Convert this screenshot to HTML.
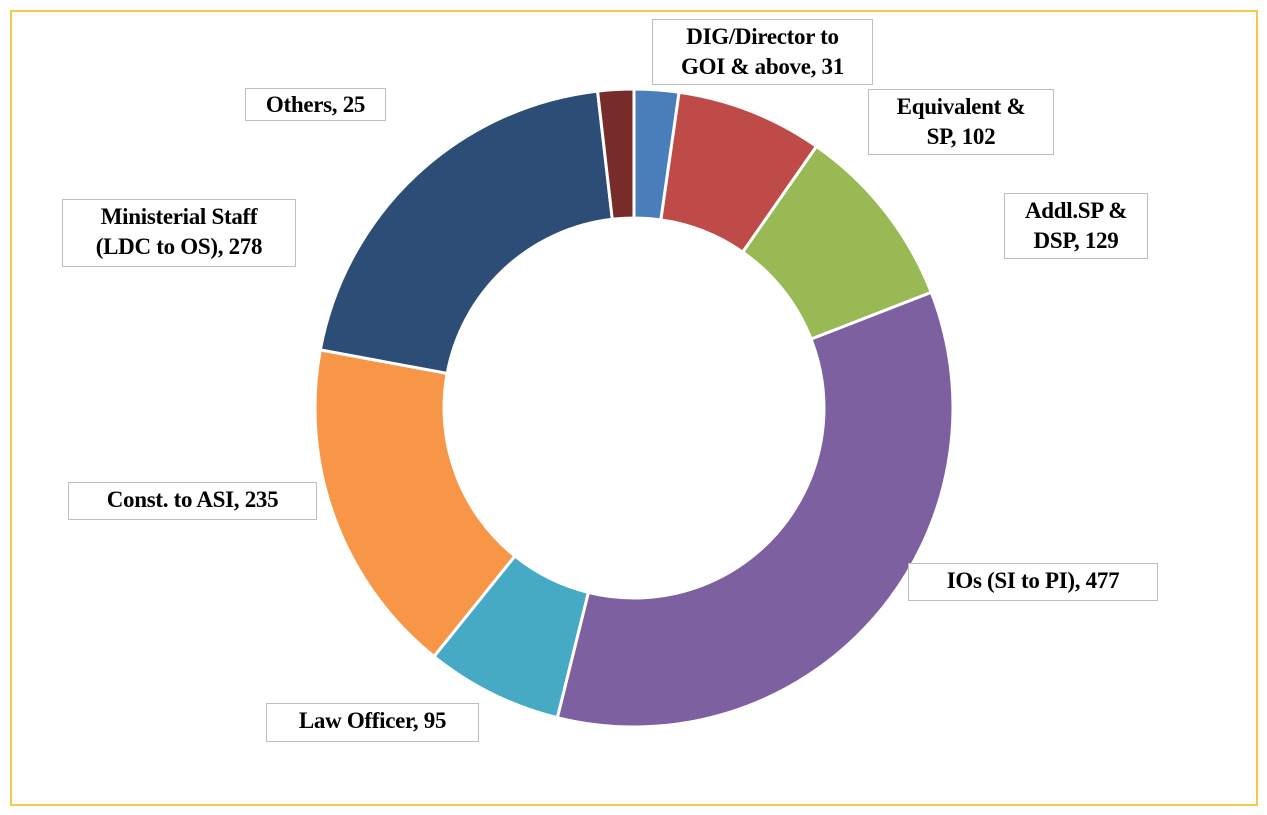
<!DOCTYPE html>
<html><head><meta charset="utf-8">
<style>
body{margin:0;background:#fff;width:1267px;height:815px;position:relative;overflow:hidden;font-family:"Liberation Serif",serif}
#frame{position:absolute;left:10px;top:10px;width:1248px;height:796px;border:2px solid #f2c94c;box-sizing:border-box}
.lbl{position:absolute;border:1.5px solid #bfbfbf;background:#fff;font-size:23px;line-height:30px;text-align:center;color:#000;box-sizing:border-box;padding-top:2px;font-weight:bold;letter-spacing:-0.3px}
</style></head><body>
<div id="frame"></div>
<svg id="chart" width="1267" height="815" style="position:absolute;left:0;top:0"></svg>
<div class="lbl" style="left:652px;top:19px;width:221px;height:66px">DIG/Director to<br>GOI &amp; above, 31</div>
<div class="lbl" style="left:868px;top:89px;width:186px;height:66px">Equivalent &amp;<br>SP, 102</div>
<div class="lbl" style="left:1004px;top:193px;width:144px;height:66px">Addl.SP &amp;<br>DSP, 129</div>
<div class="lbl" style="left:908px;top:563px;width:250px;height:38px">IOs (SI to PI), 477</div>
<div class="lbl" style="left:266px;top:703px;width:213px;height:39px">Law Officer, 95</div>
<div class="lbl" style="left:68px;top:482px;width:249px;height:38px">Const. to ASI, 235</div>
<div class="lbl" style="left:62px;top:199px;width:234px;height:68px">Ministerial Staff<br>(LDC to OS), 278</div>
<div class="lbl" style="left:245px;top:88px;width:141px;height:33px;line-height:27px">Others, 25</div>
<script>
const categories=["DIG/Director to GOI & above","Equivalent & SP","Addl.SP & DSP","IOs (SI to PI)","Law Officer","Const. to ASI","Ministerial Staff (LDC to OS)","Others"];
const values=[31,102,129,477,95,235,278,25];
const colors=["#4a7ebb","#be4b48","#98b954","#7d60a0","#46aac5","#f69646","#2c4d75","#772c2a"];
const svg=document.getElementById('chart');
const cx=634,cy=408,R=319,r=190;
const total=values.reduce((a,b)=>a+b,0);
function pt(rad,a){return [cx+rad*Math.sin(a),cy-rad*Math.cos(a)];}
let acc=0;
values.forEach((v,i)=>{
  const a0=acc/total*2*Math.PI;acc+=v;const a1=acc/total*2*Math.PI;
  const large=(a1-a0)>Math.PI?1:0;
  const p0=pt(R,a0),p1=pt(R,a1),q1=pt(r,a1),q0=pt(r,a0);
  const p=document.createElementNS('http://www.w3.org/2000/svg','path');
  p.setAttribute('d',`M${p0[0]},${p0[1]} A${R},${R} 0 ${large} 1 ${p1[0]},${p1[1]} L${q1[0]},${q1[1]} A${r},${r} 0 ${large} 0 ${q0[0]},${q0[1]} Z`);
  p.setAttribute('fill',colors[i]);p.setAttribute('stroke','#fff');p.setAttribute('stroke-width','3');
  
  
  svg.appendChild(p);
});
</script>
</body></html>
